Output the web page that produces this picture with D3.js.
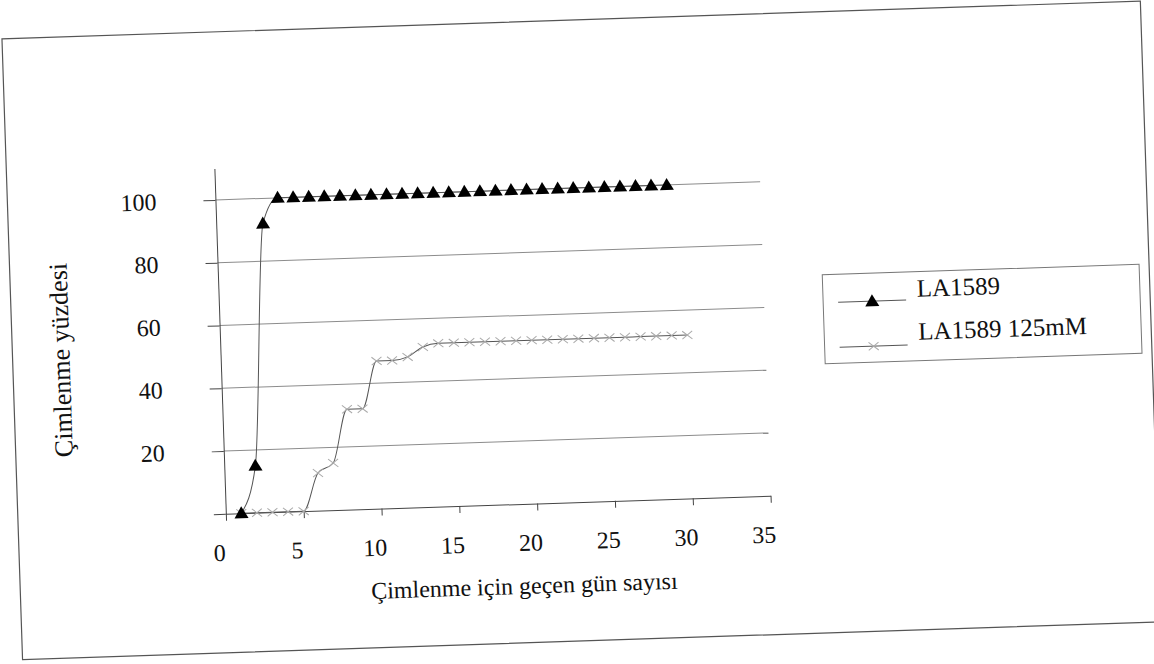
<!DOCTYPE html>
<html>
<head>
<meta charset="utf-8">
<script src="https://cdn.jsdelivr.net/npm/d3@7"></script>
<style>
  html, body { margin: 0; padding: 0; background: #fff; }
  svg { display: block; }
  text { font-family: "Liberation Serif", "Times New Roman", serif; fill: #111; }
</style>
</head>
<body>
<div id="chart"></div>
<script>
// ------------------------------------------
//  Data
// ------------------------------------------
const days1 = [1, 2, 3, 4, 5, 6, 7, 8, 9, 10, 11, 12, 13, 14, 15, 16, 17, 18, 19, 20, 21, 22, 23, 24, 25, 26, 27, 28, 29]
const la1589 = [0, 15, 92, 100, 100, 100, 100, 100, 100, 100, 100, 100, 100, 100, 100, 100, 100, 100, 100, 100, 100, 100, 100, 100, 100, 100, 100, 100, 100]

const days2 = [1, 2, 3, 4, 5, 6, 7, 8, 9, 10, 11, 12, 13, 14, 15, 16, 17, 18, 19, 20, 21, 22, 23, 24, 25, 26, 27, 28, 29, 30]
const la1589Salt = [0, 0, 0, 0, 0, 12, 15, 32, 32, 47, 47, 48, 51, 52, 52, 52, 52, 52, 52, 52, 52, 52, 52, 52, 52, 52, 52, 52, 52, 52]

const seriesNames = ['LA1589', 'LA1589 125mM']
const xTicks = [0, 5, 10, 15, 20, 25, 30, 35]
const yTicks = [0, 20, 40, 60, 80, 100]
const xTitle = 'Çimlenme için geçen gün sayısı'
const yTitle = 'Çimlenme yüzdesi'

// ------------------------------------------
//  Layout
// ------------------------------------------
const W = 1154, H = 664
const svg = d3.select('#chart').append('svg').attr('width', W).attr('height', H)
svg.append('rect').attr('width', W).attr('height', H).attr('fill', '#fff')

// the page was scanned a little crooked
const g = svg.append('g').attr('transform', `rotate(-1.9, ${W / 2}, ${H / 2})`)

g.append('rect')
  .attr('x', 12).attr('y', 20).attr('width', 1139).attr('height', 621)
  .attr('fill', 'none').attr('stroke', '#555').attr('stroke-width', 1.2)

const x = d3.scaleLinear().domain([0, 35]).range([220, 765])
const y = d3.scaleLinear().domain([0, 110]).range([502, 156.6])

// gridlines
g.append('g').selectAll('line')
  .data(yTicks.filter(d => d > 0))
  .join('line')
  .attr('x1', x(0)).attr('x2', x(35))
  .attr('y1', d => y(d)).attr('y2', d => y(d))
  .attr('stroke', '#8c8c8c').attr('stroke-width', 1)

// axes
const yAxis = g.append('g')
  .attr('transform', `translate(${x(0)},0)`)
  .call(d3.axisLeft(y).tickValues(yTicks).tickSize(12).tickSizeOuter(0).tickPadding(47)
    .tickFormat(d => d === 0 ? '' : d))
yAxis.select('.domain').attr('stroke', '#444')
yAxis.selectAll('.tick line').attr('stroke', '#444')
yAxis.selectAll('.tick text').attr('font-size', 24).attr('font-family', 'Liberation Serif').attr('fill', '#111')

const xAxis = g.append('g')
  .attr('transform', `translate(0,${y(0)})`)
  .call(d3.axisBottom(x).tickValues(xTicks).tickSize(7).tickSizeOuter(0).tickPadding(23))
xAxis.select('.domain').attr('stroke', '#444')
xAxis.selectAll('.tick line').attr('stroke', '#444')
xAxis.selectAll('.tick text').attr('font-size', 24).attr('font-family', 'Liberation Serif')
  .attr('fill', '#111').attr('dx', -8)

// axis titles
g.append('text')
  .attr('x', 516).attr('y', 592)
  .attr('text-anchor', 'middle').attr('font-size', 24)
  .text(xTitle)

g.append('text')
  .attr('transform', 'translate(69,343) rotate(-90)')
  .attr('text-anchor', 'middle').attr('font-size', 26)
  .text(yTitle)

// ------------------------------------------
//  Series
// ------------------------------------------
const pts1 = days1.map((d, i) => [d, la1589[i]])
const pts2 = days2.map((d, i) => [d, la1589Salt[i]])

const line = d3.line().x(d => x(d[0])).y(d => y(d[1])).curve(d3.curveMonotoneX)

const triangle = 'M0,-7L7,5L-7,5Z'
const cross = 'M-5,-4L5,4M-5,4L5,-4'

g.append('path').datum(pts2)
  .attr('d', line).attr('fill', 'none').attr('stroke', '#555').attr('stroke-width', 1)

g.append('g').selectAll('path')
  .data(pts2)
  .join('path')
  .attr('transform', d => `translate(${x(d[0])},${y(d[1])})`)
  .attr('d', cross).attr('stroke', '#aaa').attr('stroke-width', 1).attr('fill', 'none')

g.append('path').datum(pts1)
  .attr('d', line).attr('fill', 'none').attr('stroke', '#555').attr('stroke-width', 1)

g.append('g').selectAll('path')
  .data(pts1)
  .join('path')
  .attr('transform', d => `translate(${x(d[0])},${y(d[1])})`)
  .attr('d', triangle).attr('fill', '#000')

// ------------------------------------------
//  Legend
// ------------------------------------------
const legend = g.append('g')
legend.append('rect')
  .attr('x', 824).attr('y', 283).attr('width', 317).attr('height', 89)
  .attr('fill', '#fff').attr('stroke', '#777').attr('stroke-width', 1)

const rows = [
  { name: seriesNames[0], lineY: 311, textY: 308, mark: triangle, fill: '#000', stroke: 'none' },
  { name: seriesNames[1], lineY: 356, textY: 351, mark: cross, fill: 'none', stroke: '#aaa' }
]

rows.forEach(r => {
  legend.append('line')
    .attr('x1', 839).attr('x2', 907).attr('y1', r.lineY).attr('y2', r.lineY)
    .attr('stroke', '#555').attr('stroke-width', 1)
  legend.append('path')
    .attr('transform', `translate(873,${r.lineY})`)
    .attr('d', r.mark).attr('fill', r.fill).attr('stroke', r.stroke)
  legend.append('text')
    .attr('x', 918).attr('y', r.textY).attr('font-size', 25)
    .text(r.name)
})
</script>
</body>
</html>
